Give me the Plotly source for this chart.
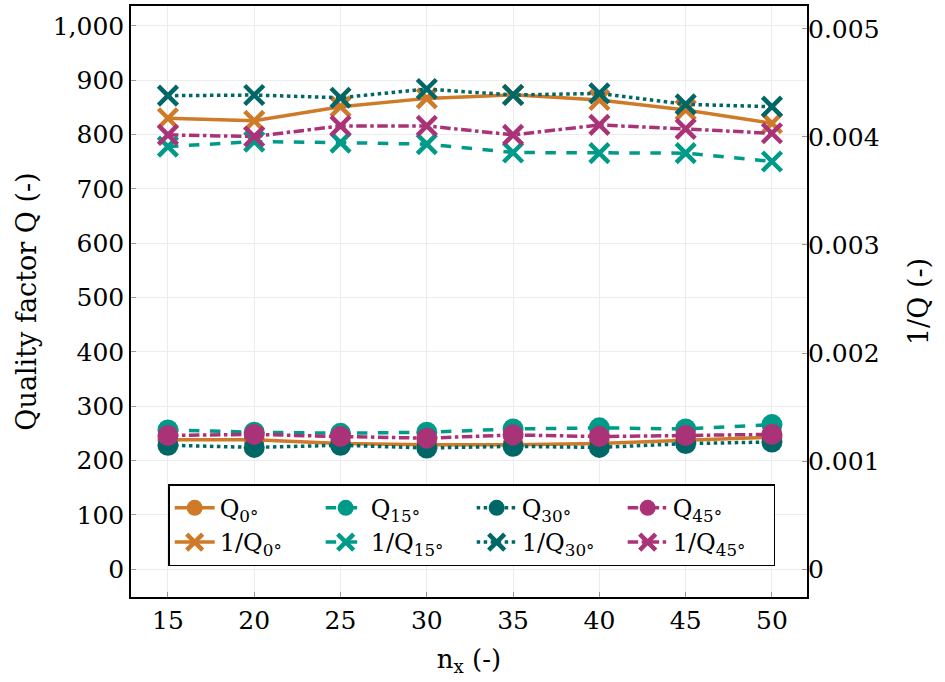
import plotly.graph_objects as go

nx = [15, 20, 25, 30, 35, 40, 45, 50]

# quality factor Q (left axis)
q_0 = [238, 238, 231, 229, 229, 231, 237, 243]
q_15 = [256, 252, 250, 252, 258, 260, 258, 266]
q_30 = [228, 224, 228, 223, 226, 224, 231, 234]
q_45 = [246, 248, 244, 241, 247, 244, 246, 248]

# 1/Q (right axis)
inv_q_0 = [0.004173, 0.004149, 0.004280, 0.004357, 0.004390, 0.004342, 0.004250, 0.004127]
inv_q_15 = [0.003911, 0.003957, 0.003948, 0.003933, 0.003856, 0.003850, 0.003850, 0.003773]
inv_q_30 = [0.004382, 0.004388, 0.004363, 0.004444, 0.004388, 0.004403, 0.004302, 0.004280]
inv_q_45 = [0.004019, 0.004004, 0.004102, 0.004102, 0.004019, 0.004111, 0.004074, 0.004034]

labels = ["0°", "15°", "30°", "45°"]
colors = ["#CF7A28", "#009A88", "#006767", "#AA3377"]
dashes = ["solid", "dash", "dot", "dashdot"]

FONT = "DejaVu Serif"

fig = go.Figure()

for lab, col, dsh, ys in zip(labels, colors, dashes, [q_0, q_15, q_30, q_45]):
    fig.add_trace(go.Scatter(
        x=nx, y=ys, name="Q<sub>" + lab + "</sub>",
        mode="lines+markers",
        line=dict(color=col, width=3.5, dash=dsh),
        marker=dict(symbol="circle", size=21, color=col),
    ))

for lab, col, dsh, ys in zip(labels, colors, dashes, [inv_q_0, inv_q_15, inv_q_30, inv_q_45]):
    fig.add_trace(go.Scatter(
        x=nx, y=ys, name="1/Q<sub>" + lab + "</sub>", yaxis="y2",
        mode="lines+markers",
        line=dict(color=col, width=3.5, dash=dsh),
        marker=dict(symbol="x-thin", size=19, color=col, line=dict(color=col, width=4.5)),
    ))

fig.update_layout(
    width=945, height=682,
    margin=dict(l=131, r=138, t=4, b=85),
    plot_bgcolor="white", paper_bgcolor="white",
    font=dict(family=FONT, size=25, color="black"),
    showlegend=True,
    legend=dict(
        orientation="h", x=0.055, y=0.052, xanchor="left", yanchor="bottom",
        bgcolor="white", bordercolor="black", borderwidth=1.5,
        entrywidth=96, itemwidth=40, font=dict(size=24),
        tracegroupgap=0,
    ),
    xaxis=dict(
        range=[12.86, 52.03], tickvals=nx,
        showgrid=True, gridcolor="#ececec", gridwidth=1,
        showline=True, linecolor="black", linewidth=1.5, mirror=True,
        ticks="inside", ticklen=5, tickcolor="#999999",
        title=dict(text="n<sub>x</sub> (-)", standoff=16, font=dict(size=26)),
        zeroline=False,
    ),
    yaxis=dict(
        range=[-51.4, 1036.7], tickvals=list(range(0, 1001, 100)),
        tickformat=",d",
        showgrid=True, gridcolor="#ececec", gridwidth=1,
        showline=True, linecolor="black", linewidth=1.5, mirror=True,
        ticks="inside", ticklen=5, tickcolor="#999999",
        title=dict(text="Quality factor Q (-)", standoff=8, font=dict(size=27)),
        zeroline=False,
    ),
    yaxis2=dict(
        overlaying="y", side="right",
        range=[-0.000258, 0.005212],
        tickvals=[0, 0.001, 0.002, 0.003, 0.004, 0.005],
        ticktext=["0", "0.001", "0.002", "0.003", "0.004", "0.005"],
        showgrid=False, zeroline=False,
        ticks="inside", ticklen=5, tickcolor="#999999",
        title=dict(text="1/Q (-)", standoff=30, font=dict(size=27)),
    ),
)

# page body has a default 8px margin; remove it so the figure sits at the window corner
fig.write_html("out.html", config={"displayModeBar": False},
               post_script="document.body.style.margin='0px';")
